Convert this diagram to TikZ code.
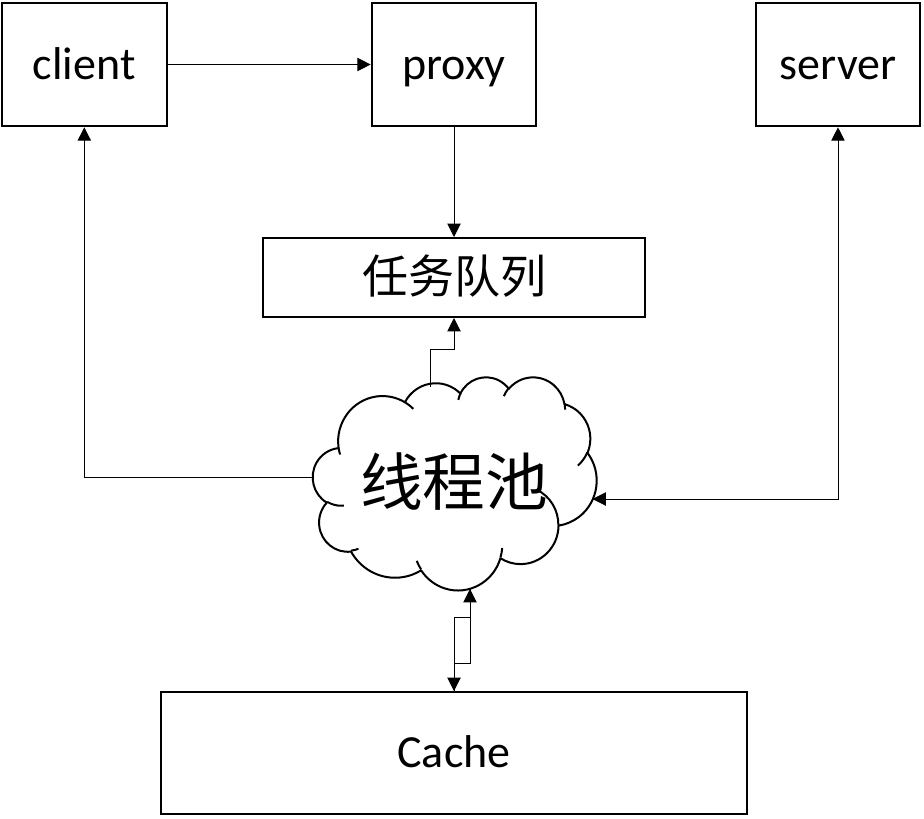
\documentclass[tikz,border=0pt]{standalone}
\usepackage{fontspec}
\setmainfont{Carlito}
\newfontfamily\cjkfont{Noto Sans CJK SC}
\usetikzlibrary{arrows.meta}
\begin{document}
\begin{tikzpicture}[x=0.75pt,y=-0.75pt,
  box/.style={draw=black,line width=1.5pt,fill=white,inner sep=0pt,align=center},
  latinlbl/.style={font=\fontsize{34.5pt}{40pt}\selectfont,text height=21.8pt,text depth=0pt},
  cjklbl/.style={font=\cjkfont\fontsize{34.5pt}{40pt}\selectfont,text height=23.7pt,text depth=0pt},
  conn/.style={draw=black,line width=0.75pt},
  endarrow/.style={-{Triangle[length=10pt,width=10pt]}},
  bothends/.style={{Triangle[length=10pt,width=10pt]}-{Triangle[length=10pt,width=10pt]}},
  cloudline/.style={draw=black,line width=1.5pt,line join=round}]
\useasboundingbox (0,0) rectangle (924,818);

% boxes
\node[box,latinlbl,minimum width=123.5pt,minimum height=92.7pt] (client) at (84.3,64.5) {client};
\node[box,latinlbl,minimum width=123.5pt,minimum height=92.7pt] (proxy) at (454,64.5) {proxy};
\node[box,latinlbl,minimum width=123.5pt,minimum height=92.7pt] (server) at (838,64.5) {server};
\node[box,cjklbl,minimum width=286.5pt,minimum height=59.25pt] (queue) at (454,277.5) {任务队列};
\node[box,latinlbl,minimum width=439.5pt,minimum height=91.5pt] (cache) at (454,753) {Cache};

% cloud (thread pool)
\begin{scope}[shift={(312.94,376.6)},x=0.49241pt,y=-0.36998pt]
\draw[cloudline,fill=white] (39,143.70)
 arc[start angle=-187.747,end angle=-59.636,x radius=67.53,y radius=91.90]
 arc[start angle=-152.018,end angle=-45.446,x radius=53.33,y radius=72.67]
 arc[start angle=-153.490,end angle=-37.327,x radius=43.65,y radius=59.45]
 arc[start angle=-139.690,end angle=-10.212,x radius=48.57,y radius=65.95]
 arc[start angle=-74.768,end angle=23.210,x radius=53.33,y radius=72.73]
 arc[start angle=-37.527,end angle=81.863,x radius=67.75,y radius=92.20]
 arc[start angle=0.460,end angle=121.983,x radius=57.85,y radius=78.67]
 arc[start angle=16.844,end angle=146.250,x radius=67.52,y radius=92.15]
 arc[start angle=58.986,end angle=150.192,x radius=77.20,y radius=105.43]
 arc[start angle=83.306,end angle=223.114,x radius=43.60,y radius=59.18]
 arc[start angle=120.355,end angle=264.113,x radius=43.45,y radius=59.45]
 -- cycle;
\draw[cloudline] (46.93,261.77) arc[start angle=85.547,end angle=120.355,x radius=43.45,y radius=59.45];
\draw[cloudline] (69.28,348.99) arc[start angle=68.232,end angle=83.306,x radius=43.60,y radius=59.18];
\draw[cloudline] (164.78,390.90) arc[start angle=146.250,end angle=158.475,x radius=67.52,y radius=92.15];
\draw[cloudline] (288.27,347.51) arc[start angle=4.738,end angle=16.844,x radius=67.52,y radius=92.15];
\draw[cloudline] (341.29,229.54) arc[start angle=-64.028,end angle=0.460,x radius=57.85,y radius=78.67];
\draw[cloudline] (417.98,153.54) arc[start angle=23.210,end angle=49.640,x radius=53.33,y radius=72.73];
\draw[cloudline] (383.24,54.26) arc[start angle=-10.212,end angle=0.821,x radius=48.57,y radius=65.95];
\draw[cloudline] (290.78,39.52) arc[start angle=-156.282,end angle=-139.690,x radius=48.57,y radius=65.95];
\draw[cloudline] (221.41,47.20) arc[start angle=-167.726,end angle=-153.490,x radius=43.65,y radius=59.45];
\draw[cloudline] (140.00,51.92) arc[start angle=-59.636,end angle=-45.750,x radius=67.53,y radius=91.90];
\draw[cloudline] (41.27,157.89) arc[start angle=163.192,end angle=172.253,x radius=67.53,y radius=91.90];
\end{scope}
\node[font=\cjkfont\fontsize{47pt}{50pt}\selectfont,anchor=base,inner sep=0pt] (pool) at (454,505) {线程池};

% connection points on the cloud outline
\coordinate (cT) at (430.7,386.5);
\coordinate (cL) at (312.9,477.3);
\coordinate (cR) at (592.5,499);
\coordinate (cB) at (470,589);

% connectors
\draw[conn,endarrow] (client.east) -- (proxy.west);
\draw[conn,endarrow] (proxy.south) -- (queue.north);
\draw[conn,endarrow] (cT) -- ++(0,-37) -| (queue.south);
\draw[conn,endarrow] (cL) -| (client.south);
\draw[conn,bothends] (cR) -| (server.south);
\draw[conn,endarrow] (cache.north) -- ++(0,-74) -| (cB);
\draw[conn,endarrow] (cB) -- ++(0,74) -| (cache.north);
\end{tikzpicture}
\end{document}
